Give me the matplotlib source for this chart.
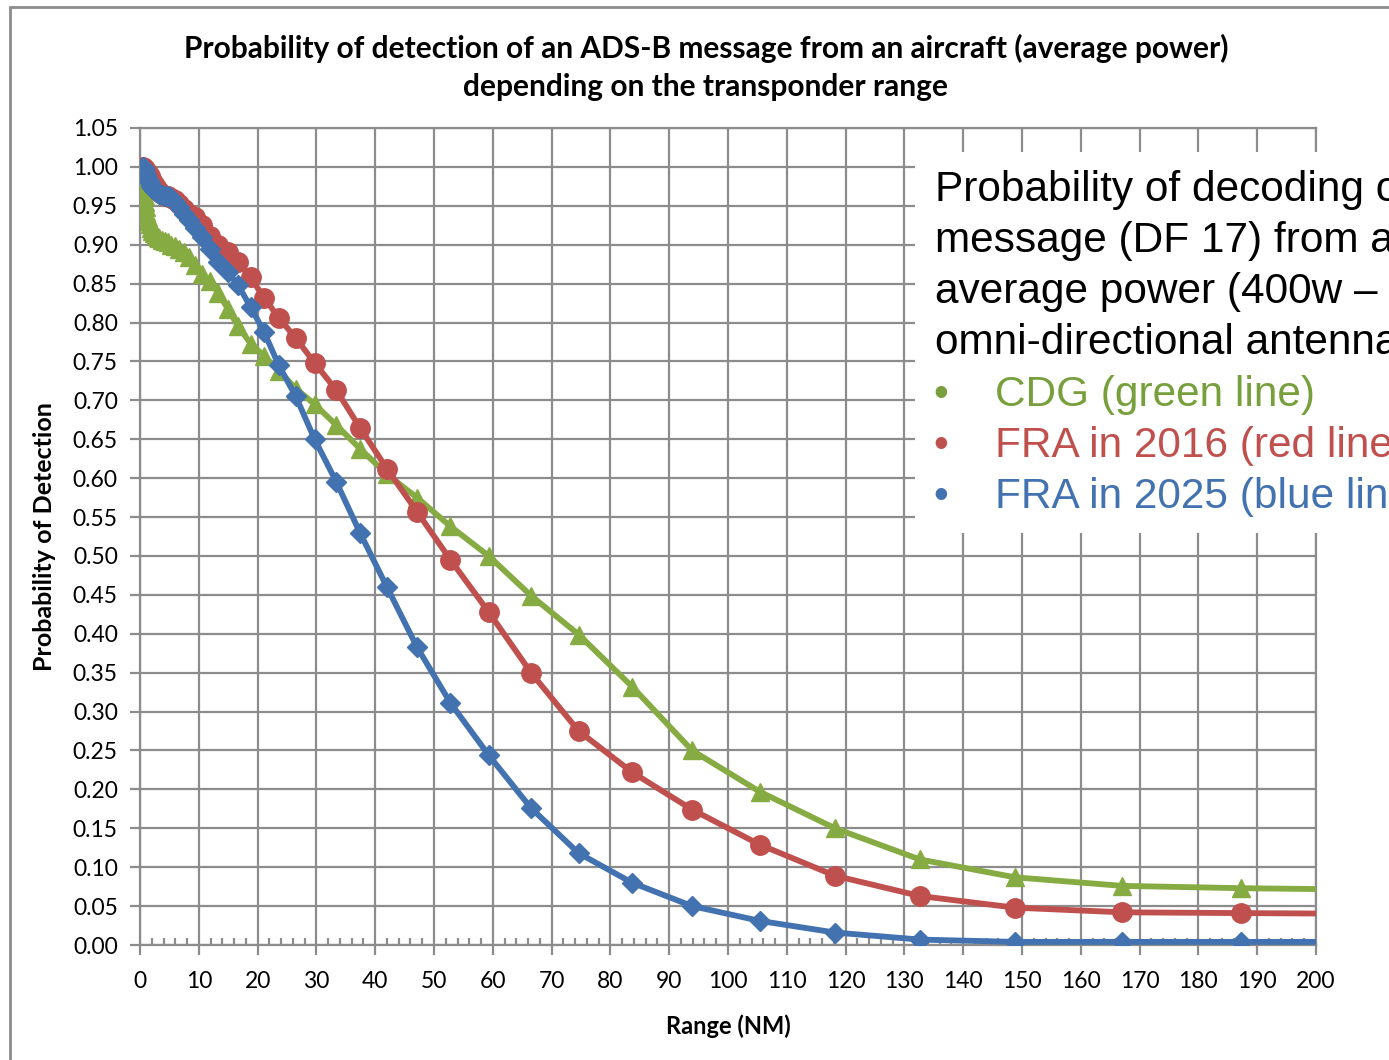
import matplotlib
matplotlib.use("Agg")
import matplotlib.pyplot as plt
from matplotlib.patches import Rectangle
from matplotlib.ticker import MultipleLocator

# Range sample points (NM)
range_nm = [0.5, 0.6, 0.7, 0.8, 0.9, 1.0, 1.1, 1.3, 1.5, 1.7, 1.9, 2.1, 2.4, 2.7,
            3.0, 3.3, 3.8, 4.2, 4.7, 5.3, 5.9, 6.7, 7.5, 8.4, 9.4, 10.6, 11.9,
            13.3, 14.9, 16.7, 18.8, 21.1, 23.6, 26.5, 29.7, 33.4, 37.4, 42.0,
            47.1, 52.8, 59.3, 66.5, 74.6, 83.7, 93.9, 105.4, 118.2, 132.6,
            148.8, 167.0, 187.3, 210.2]

cdg = [0.990, 0.982, 0.972, 0.962, 0.955, 0.948, 0.942, 0.936, 0.931, 0.926,
       0.922, 0.918, 0.915, 0.912, 0.910, 0.908, 0.906, 0.905, 0.903, 0.900,
       0.898, 0.895, 0.890, 0.884, 0.874, 0.862, 0.853, 0.838, 0.818, 0.795,
       0.773, 0.757, 0.738, 0.715, 0.695, 0.668, 0.638, 0.605, 0.575, 0.538,
       0.500, 0.449, 0.399, 0.332, 0.250, 0.197, 0.150, 0.110, 0.087, 0.076,
       0.073, 0.071]

fra_2016 = [1.000, 0.999, 0.998, 0.997, 0.996, 0.995, 0.994, 0.992, 0.990,
            0.988, 0.985, 0.982, 0.978, 0.974, 0.970, 0.968, 0.965, 0.963,
            0.962, 0.960, 0.957, 0.952, 0.946, 0.940, 0.935, 0.925, 0.911,
            0.900, 0.890, 0.878, 0.858, 0.832, 0.806, 0.780, 0.748, 0.713,
            0.665, 0.612, 0.557, 0.495, 0.428, 0.350, 0.275, 0.222, 0.174,
            0.129, 0.089, 0.063, 0.048, 0.042, 0.041, 0.040]

fra_2025 = [1.000, 0.998, 0.996, 0.994, 0.992, 0.990, 0.988, 0.985, 0.982,
            0.979, 0.976, 0.973, 0.970, 0.968, 0.966, 0.965, 0.964, 0.963,
            0.962, 0.960, 0.955, 0.948, 0.940, 0.932, 0.922, 0.910, 0.895,
            0.878, 0.865, 0.848, 0.820, 0.788, 0.745, 0.705, 0.650, 0.595,
            0.530, 0.460, 0.383, 0.311, 0.244, 0.176, 0.118, 0.080, 0.050,
            0.031, 0.016, 0.007, 0.004, 0.004, 0.004, 0.004]

green = "#86AB42"
red = "#C0504D"
blue = "#4272B0"
grid_grey = "#8C8C8C"

fig = plt.figure(figsize=(13.89, 10.60), dpi=100)
ax = fig.add_axes([140 / 1389, 1 - 945 / 1060, 1176 / 1389, 817 / 1060])

# chart frame (cut off by the picture at right and bottom)
fig.patches.append(Rectangle((10 / 1389, -0.1), 1.2, 1 - 7 / 1060 + 0.1,
                             transform=fig.transFigure, fill=False,
                             edgecolor=grid_grey, linewidth=2))

ax.plot(range_nm, cdg, color=green, lw=4.2, marker="^", ms=13,
        clip_on=True, zorder=3)
ax.plot(range_nm, fra_2016, color=red, lw=4.2, marker="o", ms=14,
        clip_on=True, zorder=4)
ax.plot(range_nm, fra_2025, color=blue, lw=4.2, marker="D", ms=10.5,
        clip_on=True, zorder=5)

ax.set_xlim(0, 200)
ax.set_ylim(0, 1.05)
ax.xaxis.set_major_locator(MultipleLocator(10))
ax.xaxis.set_minor_locator(MultipleLocator(2))
ax.yaxis.set_major_locator(MultipleLocator(0.05))
ax.yaxis.set_major_formatter(matplotlib.ticker.FormatStrFormatter("%.2f"))
ax.grid(True, which="major", color=grid_grey, lw=1.6, zorder=1)
ax.set_axisbelow(True)
for s in ax.spines.values():
    s.set_color(grid_grey)
    s.set_linewidth(1.6)

ax.tick_params(axis="both", which="major", length=7, width=1.6,
               color=grid_grey, labelsize=16.5)
ax.tick_params(axis="x", which="major", pad=12)
ax.tick_params(axis="y", which="major", pad=9)
ax.tick_params(axis="x", which="minor", direction="in", length=5,
               width=1.6, color=grid_grey)
for lab in ax.get_xticklabels() + ax.get_yticklabels():
    lab.set_fontfamily("Lato")

ax.set_xlabel("Range (NM)", fontsize=17, fontweight="bold",
              fontfamily="Lato", labelpad=16)
ax.set_ylabel("Probability of Detection", fontsize=18, fontweight="bold",
              fontfamily="Lato", labelpad=12)

fig.text(706 / 1389, 1 - 48 / 1060,
         "Probability of detection of an ADS-B message from an aircraft (average power)",
         ha="center", va="center", fontsize=21.5, fontweight="bold", fontfamily="Lato")
fig.text(706 / 1389, 1 - 87 / 1060, "depending on the transponder range",
         ha="center", va="center", fontsize=21.5, fontweight="bold", fontfamily="Lato")

# text box laid over the plot area
fig.patches.append(Rectangle((915 / 1389, 1 - 533 / 1060), 0.5, 381 / 1060,
                             transform=fig.transFigure, facecolor="white",
                             edgecolor="none", zorder=6))
box_lines = ["Probability of decoding of an ADS-B",
             "message (DF 17) from an aircraft with",
             "average power (400w \u2013 24 dBW) with",
             "omni-directional antenna"]
for i, line in enumerate(box_lines):
    fig.text(935 / 1389, 1 - (190 + 51 * i) / 1060, line, ha="left",
             va="center", fontsize=30.5, fontfamily="Liberation Sans",
             color="black", zorder=7)
bullets = [("CDG (green line)", "#77A03C"),
           ("FRA in 2016 (red line)", red),
           ("FRA in 2025 (blue line)", blue)]
for i, (line, col) in enumerate(bullets):
    y = 1 - (395 + 51 * i) / 1060
    fig.text(933 / 1389, y, "\u2022", ha="left", va="center", fontsize=30.5,
             fontfamily="Liberation Sans", color=col, zorder=7)
    fig.text(995 / 1389, y, line, ha="left", va="center", fontsize=30.5,
             fontfamily="Liberation Sans", color=col, zorder=7)

fig.savefig("out.png", dpi=100)
